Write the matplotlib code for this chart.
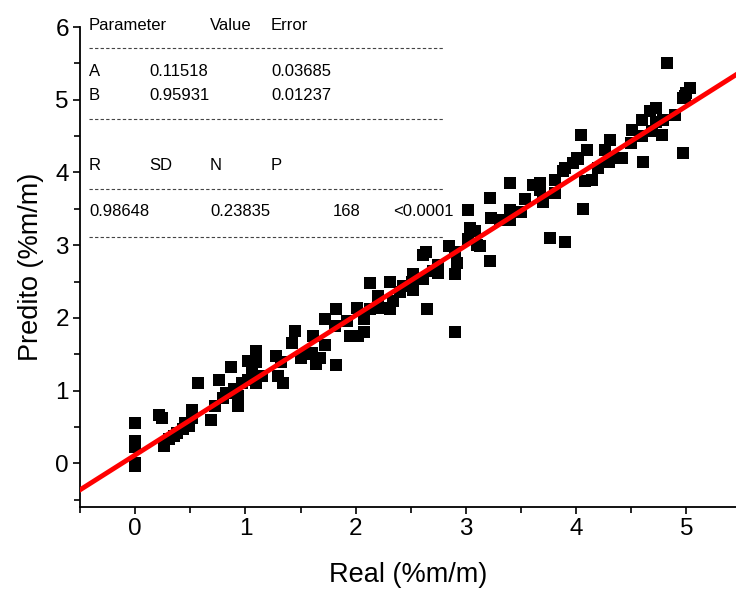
import numpy as np
import matplotlib.pyplot as plt
from matplotlib.ticker import MultipleLocator

plt.rcParams['font.family'] = ['Liberation Sans', 'DejaVu Sans']

# data
real = [0.00, 0.00, 0.00, 0.00, 0.00, 0.22, 0.24, 0.26, 0.31, 0.35,
        0.43, 0.49, 0.52, 0.52, 0.57, 0.69, 0.72, 0.76, 0.82, 0.87,
        0.93, 0.93, 0.97, 1.02, 1.02, 1.10, 1.10, 1.10, 1.06, 1.28,
        1.32, 1.34, 1.30, 1.42, 1.45, 1.61, 1.60, 1.64, 1.72, 1.72,
        1.82, 1.82, 1.81, 1.92, 1.95, 2.02, 2.08, 2.01, 2.08, 2.13,
        2.13, 2.23, 2.31, 2.31, 2.34, 2.43, 2.51, 2.52, 2.52, 2.61,
        2.61, 2.64, 2.65, 2.75, 2.75, 2.85, 2.90, 2.92, 2.90, 2.90,
        3.02, 3.02, 3.04, 3.08, 3.13, 3.22, 3.22, 3.23, 3.31, 3.40,
        3.40, 3.40, 3.54, 3.61, 3.67, 3.67, 3.76, 3.81, 3.81, 3.88,
        3.90, 3.97, 4.02, 4.06, 3.90, 4.01, 4.04, 4.10, 4.08, 4.14,
        4.20, 4.26, 4.31, 4.33, 4.42, 4.51, 4.60, 4.61, 4.67, 4.72,
        4.72, 4.69, 4.78, 4.79, 4.82, 4.90, 4.97, 5.00, 5.03, 4.97,
        4.99, 1.50, 1.55, 1.68, 0.38, 0.45, 0.80, 0.90, 1.15, 2.20,
        2.40, 2.70, 3.10, 3.50, 3.70, 4.30, 4.50, 4.60]
pred = [0.56, 0.31, 0.22, 0.00, -0.03, 0.67, 0.62, 0.24, 0.33, 0.38,
        0.47, 0.51, 0.74, 0.63, 1.11, 0.60, 0.79, 1.15, 0.97, 1.32,
        0.79, 0.92, 1.11, 1.41, 1.15, 1.54, 1.39, 1.11, 1.25, 1.47,
        1.39, 1.11, 1.20, 1.66, 1.82, 1.75, 1.52, 1.36, 1.63, 1.98,
        2.12, 1.35, 1.89, 1.96, 1.75, 1.75, 1.80, 2.14, 1.98, 2.12,
        2.48, 2.14, 2.12, 2.50, 2.23, 2.44, 2.49, 2.39, 2.60, 2.53,
        2.87, 2.90, 2.12, 2.62, 2.73, 2.99, 2.60, 2.76, 2.90, 1.81,
        3.08, 3.49, 3.24, 3.19, 2.99, 2.78, 3.65, 3.38, 3.35, 3.49,
        3.35, 3.86, 3.63, 3.83, 3.86, 3.76, 3.10, 3.90, 3.72, 4.02,
        3.05, 4.13, 4.18, 3.50, 4.06, 4.20, 4.52, 4.31, 3.88, 3.90,
        4.06, 4.31, 4.45, 4.20, 4.20, 4.59, 4.72, 4.15, 4.84, 4.89,
        4.70, 4.57, 4.52, 4.72, 5.51, 4.79, 5.02, 5.09, 5.16, 4.27,
        5.05, 1.45, 1.50, 1.45, 0.42, 0.55, 0.90, 1.02, 1.20, 2.30,
        2.35, 2.65, 3.00, 3.45, 3.60, 4.15, 4.40, 4.50]

# linear fit parameters (from the table)
fit_a = 0.11518
fit_b = 0.95931

header1 = ['Parameter', 'Value', 'Error']
rows1 = [['A', '0.11518', '0.03685'], ['B', '0.95931', '0.01237']]
header2 = ['R', 'SD', 'N', 'P']
row2 = ['0.98648', '0.23835', '168', '<0.0001']

fig = plt.figure(figsize=(7.36, 5.92), dpi=100)
ax = fig.add_axes([80/736, 1-507/592, 656/736, 480/592])

xl = (-0.5, 5.45)
ax.scatter(real, pred, marker='s', s=64, c='black', linewidths=0, zorder=2)
xx = np.array(xl)
ax.plot(xx, fit_a + fit_b*xx, color='#ff0000', lw=3.5, zorder=3)

ax.set_xlim(xl)
ax.set_ylim(-0.6, 6.0)
ax.xaxis.set_major_locator(MultipleLocator(1))
ax.xaxis.set_minor_locator(MultipleLocator(0.5))
ax.yaxis.set_major_locator(MultipleLocator(1))
ax.yaxis.set_minor_locator(MultipleLocator(0.5))
ax.spines['top'].set_visible(False)
ax.spines['right'].set_visible(False)
for s in ['left', 'bottom']:
    ax.spines[s].set_linewidth(1.3)
ax.tick_params(which='major', length=5, width=1.2, labelsize=17.5, pad=3)
ax.tick_params(which='minor', length=4, width=1.2)
ax.set_xlabel('Real (%m/m)', fontsize=19.5, labelpad=16)
ax.set_ylabel('Predito (%m/m)', fontsize=19.5, labelpad=8)

# fit results table, placed in pixel positions of the picture
def px(x, y):
    return (x-80)/656, (507-y)/480

tfs = 12
for lbl, c in zip(header1, [89, 210, 271]):
    ax.text(*px(c, 26), lbl, transform=ax.transAxes, fontsize=tfs, va='center')
for yy, r in zip([72, 95], rows1):
    for lbl, c in zip(r, [89, 149, 271]):
        ax.text(*px(c, yy), lbl, transform=ax.transAxes, fontsize=tfs, va='center')
for lbl, c in zip(header2, [89, 149, 210, 271]):
    ax.text(*px(c, 166), lbl, transform=ax.transAxes, fontsize=tfs, va='center')
for lbl, c in zip(row2, [89, 210, 333, 393]):
    ax.text(*px(c, 212), lbl, transform=ax.transAxes, fontsize=tfs, va='center')
for yy in [48, 119, 189, 237]:
    x0, y0 = px(89, yy)
    x1, _ = px(443, yy)
    ax.plot([x0, x1], [y0, y0], transform=ax.transAxes, color='#444444',
            lw=0.8, ls=(0, (3, 2)), clip_on=False)

fig.savefig('out.png', dpi=100)
